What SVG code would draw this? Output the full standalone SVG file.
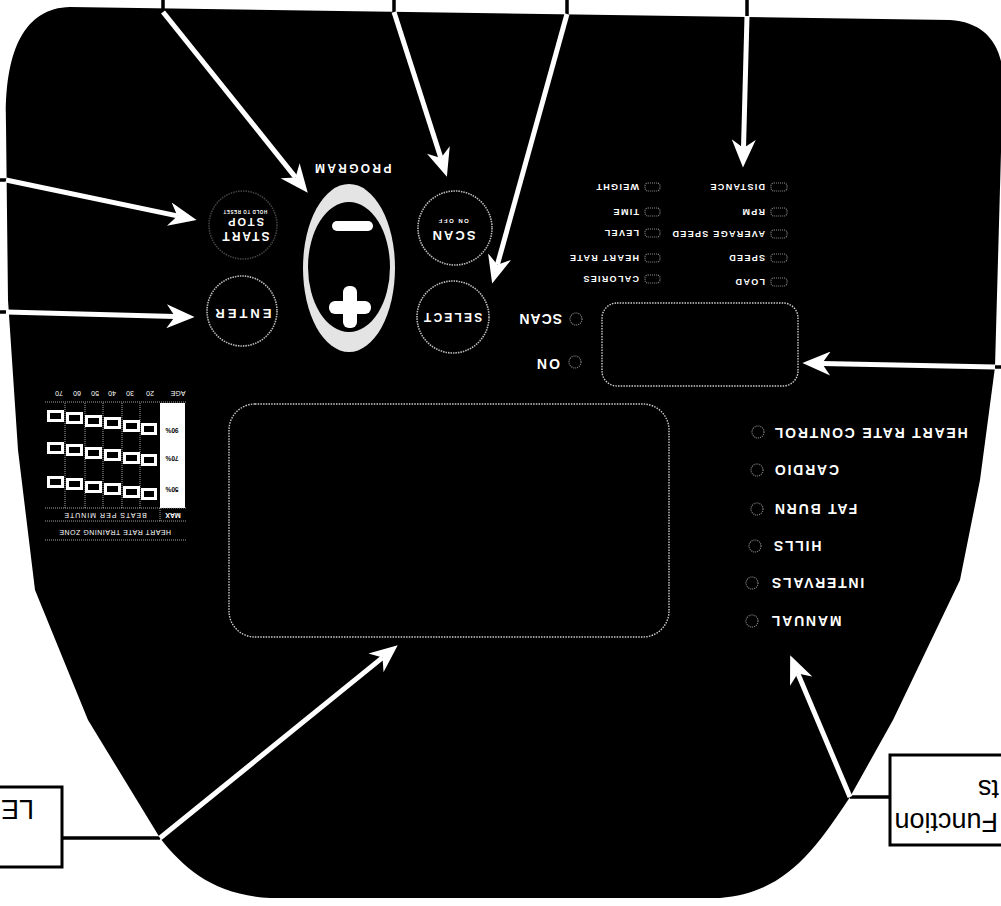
<svg xmlns="http://www.w3.org/2000/svg" width="1001" height="906" viewBox="0 0 1001 906">
<style>
.t{font-family:"Liberation Sans",Arial,sans-serif;font-weight:bold;fill:#fff;dominant-baseline:central}
.btn{fill:none;stroke:#bbb;stroke-width:1.6;stroke-dasharray:1.5 1}
.led{fill:none;stroke:#8a8a8a;stroke-width:1.2;stroke-dasharray:1 1}
.disp{fill:none;stroke:#ccc;stroke-width:1.4;stroke-dasharray:1.5 1.2}
.arr{stroke:#fff;stroke-width:5;fill:none;marker-end:url(#ah)}
.con{stroke:#000;stroke-width:3.5;fill:none}
.grid{stroke:#ccc;stroke-width:0.8;stroke-dasharray:1 1;fill:none}
.hr{font-family:"Liberation Sans",Arial,sans-serif;fill:#fff;font-size:7px;dominant-baseline:central}
.hb{font-family:"Liberation Sans",Arial,sans-serif;font-weight:bold;fill:#000;font-size:6.5px;dominant-baseline:central}
.box{font-family:"Liberation Sans",Arial,sans-serif;font-size:27px;fill:#000}
</style>
<defs>
<marker id="ah" markerUnits="userSpaceOnUse" viewBox="0 0 10 10" preserveAspectRatio="none" refX="3" refY="5" markerWidth="28" markerHeight="24" orient="auto">
<path d="M0,0 L10,5 L0,10 L3,5 Z" fill="#fff"/>
</marker>
</defs>
<rect width="1001" height="906" fill="#fff"/>
<g id="panel">
<path d="M6,125 C4,55 22,8 70,7 L950,20 C985,22 1003,45 1003,80 L995,367 L980,480 L960,580 L893,720 L850,797 C815,850 785,893 720,898 L270,898 C215,895 185,870 160,838 L88,720 L35,590 L18,450 L8,300 Z" fill="#000"/>
</g>
<g id="program">
<text class="t" x="352" y="168" font-size="12" letter-spacing="2.3" text-anchor="middle" transform="rotate(180 352 168)">PROGRAM</text>
<ellipse cx="349" cy="268" rx="46" ry="84" fill="#e4e4e4"/>
<ellipse cx="349" cy="267" rx="41" ry="65" fill="#000"/>
<rect x="332" y="221" width="41" height="10" rx="5" fill="#fff"/>
<rect x="329" y="301" width="42" height="13" rx="6" fill="#fff"/>
<rect x="343" y="286" width="14" height="42" rx="6" fill="#fff"/>
</g>
<g id="start-stop">
<circle cx="243" cy="225" r="34" class="btn" stroke-opacity="0.35"/>
<text class="t" x="245" y="236" font-size="12" letter-spacing="2" text-anchor="middle" transform="rotate(180 245 236)">START</text>
<text class="t" x="245" y="222" font-size="11" letter-spacing="2" text-anchor="middle" transform="rotate(180 245 222)">STOP</text>
<text class="t" x="245" y="211" font-size="4.5" letter-spacing="0.6" text-anchor="middle" transform="rotate(180 245 211)">HOLD TO RESET</text>
</g>
<g id="enter">
<circle cx="242" cy="311" r="35" class="btn"/>
<text class="t" x="242" y="313" font-size="13" letter-spacing="3" text-anchor="middle" transform="rotate(180 242 313)">ENTER</text>
</g>
<g id="scan">
<circle cx="455" cy="228" r="37" class="btn"/>
<text class="t" x="453" y="235" font-size="13" letter-spacing="2" text-anchor="middle" transform="rotate(180 453 235)">SCAN</text>
<text class="t" x="453" y="221" font-size="6" letter-spacing="1.5" text-anchor="middle" transform="rotate(180 453 221)">ON OFF</text>
</g>
<g id="select">
<circle cx="453" cy="317" r="36" class="btn"/>
<text class="t" x="452" y="317" font-size="12" letter-spacing="2.2" text-anchor="middle" transform="rotate(180 452 317)">SELECT</text>
</g>
<g id="on-scan">
<text class="t" x="562" y="319" font-size="14" letter-spacing="1" transform="rotate(180 562 319)">SCAN</text>
<text class="t" x="560" y="364" font-size="14" letter-spacing="2" transform="rotate(180 560 364)">ON</text>
<circle cx="576" cy="319" r="6" class="led"/>
<circle cx="575" cy="362" r="6" class="led"/>
</g>
<g id="small-display">
<rect x="602" y="303" width="196" height="83" rx="15" class="disp"/>
</g>
<g id="main-display">
<rect x="229" y="404" width="440" height="233" rx="26" class="disp"/>
</g>
<g id="metrics">
<g font-size="9" letter-spacing="1.3">
<text class="t" x="765" y="187" transform="rotate(180 765 187)">DISTANCE</text>
<text class="t" x="765" y="212" transform="rotate(180 765 212)">RPM</text>
<text class="t" x="765" y="234" transform="rotate(180 765 234)">AVERAGE SPEED</text>
<text class="t" x="765" y="258" transform="rotate(180 765 258)">SPEED</text>
<text class="t" x="765" y="282" transform="rotate(180 765 282)">LOAD</text>
<text class="t" x="639" y="187" transform="rotate(180 639 187)">WEIGHT</text>
<text class="t" x="639" y="212" transform="rotate(180 639 212)">TIME</text>
<text class="t" x="639" y="233" transform="rotate(180 639 233)">LEVEL</text>
<text class="t" x="639" y="258" transform="rotate(180 639 258)">HEART RATE</text>
<text class="t" x="639" y="279" transform="rotate(180 639 279)">CALORIES</text>
</g>
<rect x="771" y="183" width="16" height="8" rx="3" class="led"/>
<rect x="771" y="208" width="16" height="8" rx="3" class="led"/>
<rect x="771" y="230" width="16" height="8" rx="3" class="led"/>
<rect x="771" y="254" width="16" height="8" rx="3" class="led"/>
<rect x="771" y="278" width="16" height="8" rx="3" class="led"/>
<rect x="645" y="183" width="15" height="8" rx="3" class="led"/>
<rect x="645" y="208" width="15" height="8" rx="3" class="led"/>
<rect x="645" y="229" width="15" height="8" rx="3" class="led"/>
<rect x="645" y="254" width="15" height="8" rx="3" class="led"/>
<rect x="645" y="275" width="15" height="8" rx="3" class="led"/>
</g>
<g id="programs">
<g font-size="14" letter-spacing="1.8" text-anchor="end">
<text class="t" x="773" y="433" transform="rotate(180 773 433)">HEART RATE CONTROL</text>
<text class="t" x="773" y="470" transform="rotate(180 773 470)">CARDIO</text>
<text class="t" x="773" y="509" transform="rotate(180 773 509)">FAT BURN</text>
<text class="t" x="772" y="546" transform="rotate(180 772 546)">HILLS</text>
<text class="t" x="770" y="583" transform="rotate(180 770 583)">INTERVALS</text>
<text class="t" x="770" y="621" transform="rotate(180 770 621)">MANUAL</text>
</g>
<circle cx="758" cy="432" r="6" class="led"/>
<circle cx="757" cy="470" r="6" class="led"/>
<circle cx="757" cy="509" r="6" class="led"/>
<circle cx="755" cy="546" r="6" class="led"/>
<circle cx="752" cy="583" r="6" class="led"/>
<circle cx="752" cy="621" r="6" class="led"/>
</g>
<g id="hr-table">
<rect x="160" y="403" width="25" height="105" fill="#fff"/>
<path class="grid" d="M45,402 H187 M45,508 H187 M45,521 H187 M65,403 V508 M85,403 V508 M103,403 V508 M122,403 V508 M140,403 V508 M160,508 V521 M45,540 H187"/>
<text class="hr" x="178" y="393" text-anchor="middle" transform="rotate(180 178 393)">AGE</text>
<text class="hr" x="150" y="393" text-anchor="middle" transform="rotate(180 150 393)">20</text>
<text class="hr" x="130" y="393" text-anchor="middle" transform="rotate(180 130 393)">30</text>
<text class="hr" x="112" y="393" text-anchor="middle" transform="rotate(180 112 393)">40</text>
<text class="hr" x="95" y="393" text-anchor="middle" transform="rotate(180 95 393)">50</text>
<text class="hr" x="77" y="393" text-anchor="middle" transform="rotate(180 77 393)">60</text>
<text class="hr" x="59" y="393" text-anchor="middle" transform="rotate(180 59 393)">70</text>
<text class="hr" x="173" y="515" text-anchor="middle" font-weight="bold" transform="rotate(180 173 515)">MAX</text>
<text class="hr" x="105" y="515" text-anchor="middle" letter-spacing="1" transform="rotate(180 105 515)">BEATS PER MINUTE</text>
<text class="hr" x="115" y="532" text-anchor="middle" letter-spacing="0.5" transform="rotate(180 115 532)">HEART RATE TRAINING ZONE</text>
<text class="hb" x="172" y="430" text-anchor="middle" transform="rotate(180 172 430)">90%</text>
<text class="hb" x="172" y="458" text-anchor="middle" transform="rotate(180 172 458)">70%</text>
<text class="hb" x="172" y="489" text-anchor="middle" transform="rotate(180 172 489)">50%</text>
<g fill="#fff">
<rect x="47" y="410" width="17" height="12"/><rect x="66" y="412" width="17" height="12"/><rect x="85" y="415" width="17" height="12"/><rect x="104" y="417" width="17" height="12"/><rect x="123" y="420" width="17" height="12"/><rect x="141" y="423" width="16" height="12"/>
<rect x="47" y="442" width="17" height="12"/><rect x="66" y="444" width="17" height="12"/><rect x="85" y="447" width="17" height="12"/><rect x="104" y="449" width="17" height="12"/><rect x="123" y="452" width="17" height="12"/><rect x="141" y="454" width="16" height="12"/>
<rect x="47" y="476" width="17" height="12"/><rect x="66" y="478" width="17" height="12"/><rect x="85" y="481" width="17" height="12"/><rect x="104" y="483" width="17" height="12"/><rect x="123" y="486" width="17" height="12"/><rect x="141" y="488" width="16" height="12"/>
</g>
<g fill="#000">
<rect x="50" y="413" width="11" height="6"/><rect x="69" y="415" width="11" height="6"/><rect x="88" y="418" width="11" height="6"/><rect x="107" y="420" width="11" height="6"/><rect x="126" y="423" width="11" height="6"/><rect x="144" y="426" width="10" height="6"/>
<rect x="50" y="445" width="11" height="6"/><rect x="69" y="447" width="11" height="6"/><rect x="88" y="450" width="11" height="6"/><rect x="107" y="452" width="11" height="6"/><rect x="126" y="455" width="11" height="6"/><rect x="144" y="457" width="10" height="6"/>
<rect x="50" y="479" width="11" height="6"/><rect x="69" y="481" width="11" height="6"/><rect x="88" y="484" width="11" height="6"/><rect x="107" y="486" width="11" height="6"/><rect x="126" y="489" width="11" height="6"/><rect x="144" y="491" width="10" height="6"/>
</g>
</g>
<g id="led-box">
<rect x="-5" y="787" width="67" height="80" fill="#fff" stroke="#000" stroke-width="3"/>
<text class="box" x="34" y="800" transform="rotate(180 34 800)">LE</text>
</g>
<g id="function-box">
<rect x="890" y="755" width="120" height="90" fill="#fff" stroke="#000" stroke-width="3"/>
<text class="box" x="998" y="813" transform="rotate(180 998 813)">Function</text>
<text class="box" x="978" y="780" text-anchor="end" transform="rotate(180 978 780)">ts</text>
</g>
<g id="connectors">
<path class="con" d="M163,0 V14 M394,0 V14 M567,0 V16 M747,0 V18 M0,180 H8 M0,312 H8 M993,367 H1001 M62,838 H160 M850,797 H890"/>
<line class="arr" x1="163" y1="12" x2="295.5" y2="177.4"/>
<line class="arr" x1="394" y1="12" x2="440.9" y2="158"/>
<line class="arr" x1="567" y1="14" x2="497.4" y2="264.7"/>
<line class="arr" x1="747" y1="16" x2="743.5" y2="148"/>
<line class="arr" x1="6" y1="180" x2="177.4" y2="215.9"/>
<line class="arr" x1="6" y1="312" x2="175" y2="316.5"/>
<line class="arr" x1="995" y1="367" x2="822" y2="363.4"/>
<line class="arr" x1="160" y1="838" x2="382.5" y2="657.6"/>
<line class="arr" x1="850" y1="797" x2="797.8" y2="673.4"/>
</g>
</svg>
